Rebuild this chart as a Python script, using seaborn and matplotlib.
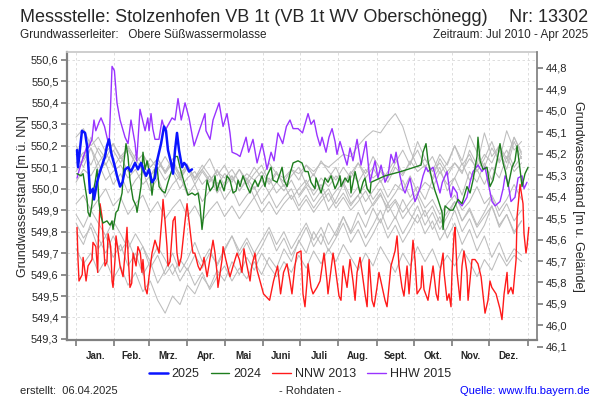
import matplotlib
matplotlib.use('Agg')
import matplotlib.pyplot as plt
from matplotlib.ticker import FuncFormatter, FixedLocator
from matplotlib.lines import Line2D
import pandas as pd
import seaborn as sns

# Tag im Jahr (0 = 1. Jan.) und Grundwasserstand [m ü. NN]
JAHR_2025 = [(0.8, 550.18), (1.6, 550.10), (4.8, 550.27), (7.3, 550.26), (8.9, 550.20), (10, 550.10),
             (11.3, 549.98), (13.7, 550.00), (14.5, 549.95), (17, 550.03), (19.4, 550.08), (23.4, 550.15),
             (25, 550.20), (26.7, 550.23), (28.3, 550.17), (31.5, 550.10), (33.1, 550.06), (35.6, 550.01),
             (37.5, 550.03), (39.6, 550.09), (42, 550.10), (44.4, 550.08), (47.7, 550.12), (50, 550.09),
             (52.5, 550.12), (55, 550.08), (56.6, 550.06), (59, 550.09), (61.4, 550.03), (63.8, 550.05),
             (65.5, 550.13), (68.7, 550.21), (71.1, 550.29), (72.7, 550.27), (74.3, 550.18), (76.8, 550.12),
             (78.4, 550.07), (80, 550.18), (81.6, 550.26), (83.2, 550.18), (85.7, 550.10), (87.3, 550.12),
             (89, 550.11), (91.3, 550.08), (93.7, 550.09)]

JAHR_2024 = [(0.8, 550.07), (4, 550.06), (5.7, 550.07), (7.3, 550.01), (8.9, 549.95), (9.7, 549.89),
             (11.3, 549.87), (12.9, 549.93), (13.7, 549.98), (15.4, 550.03), (17, 550.09), (18.6, 549.93),
             (20.2, 549.87), (21.8, 549.84), (25, 549.85), (27.5, 549.83), (29.1, 549.85), (29.9, 549.81),
             (32.3, 549.89), (33.9, 549.90), (37.2, 549.98), (38.8, 550.13), (40.4, 550.21), (42, 550.15),
             (43.6, 550.04), (46.1, 549.95), (48.5, 549.92), (49.3, 549.89), (50.9, 549.95), (52.5, 550.01),
             (53.3, 550.09), (54.1, 550.17), (55.8, 550.09), (57.4, 550.13), (59.8, 550.06), (61.4, 549.97),
             (63.8, 550.09), (65.5, 550.10), (67.1, 550.01), (69.5, 549.99), (71.9, 549.98), (74.3, 550.03),
             (77.6, 550.09), (80, 550.15), (82, 550.15), (84, 550.10), (87.3, 550.03), (90.5, 549.97),
             (93.7, 549.98), (96.2, 549.97), (98.6, 549.98), (100.2, 549.92), (101.8, 549.81), (102.6, 549.85),
             (104.2, 549.95), (105.9, 550.04), (108.3, 549.99), (110.7, 550.01), (112.3, 550.06), (113.9, 549.99),
             (116.4, 550.04), (119.6, 549.99), (122, 550.06), (124.4, 550.04), (126.9, 549.98), (129.3, 549.99),
             (130.9, 550.04), (132.5, 550.01), (134.9, 550.06), (138.2, 550.01), (140.6, 549.98), (142.2, 550.01),
             (144.6, 550.04), (147.1, 550.01), (150.3, 550.06), (152.7, 550.01), (154.3, 550.06), (157.6, 550.10),
             (159.2, 550.04), (162.4, 550.03), (164.8, 550.07), (166.5, 550.10), (168.1, 550.04), (170.5, 550.01),
             (172.9, 550.07), (175.4, 550.12), (179.4, 550.13), (182.6, 550.12), (185.1, 550.08), (187.5, 550.08),
             (189.9, 550.03), (193.1, 550.00), (193.9, 550.05), (195.6, 550.02), (198, 549.98), (201.2, 550.05),
             (203.6, 550.03), (206.1, 550.06), (209.3, 550.00), (211.7, 550.03), (213.3, 550.06), (214.1, 550.01),
             (217.4, 550.05), (219.8, 550.03), (221.4, 550.06), (222.2, 549.98), (225.5, 550.08), (227.9, 550.02),
             (229.5, 549.98), (231.9, 550.03), (233.5, 550.05), (235.2, 550.00), (237.6, 549.98), (238.4, 550.03),
             (249.7, 550.06), (262.6, 550.08), (278.8, 550.11), (280.4, 550.17), (282.8, 550.21), (284.4, 550.13),
             (287.7, 550.04), (290.1, 549.99), (292.5, 549.95), (295.8, 549.89), (296.6, 549.81), (298.2, 549.92),
             (302.2, 549.90), (304.6, 549.90), (308.7, 549.95), (311.9, 549.93), (315.9, 550.01), (318.4, 549.98),
             (320.8, 550.04), (324, 550.15), (324.8, 550.24), (326.5, 550.13), (328.9, 550.09), (332.1, 550.10),
             (334.5, 550.01), (337, 550.04), (340.2, 550.13), (342.6, 550.21), (345.1, 550.12), (347, 550.08),
             (349.1, 550.01), (352.3, 550.10), (354.7, 550.13), (356.4, 550.20), (358.8, 550.09), (360.4, 550.01),
             (362.8, 550.07), (365.3, 550.10)]

NNW_2013 = [(0.8, 549.82), (1.6, 549.67), (2.4, 549.57), (5, 549.60), (5.7, 549.68), (7.3, 549.61),
            (8.1, 549.57), (9.7, 549.64), (12.9, 549.67), (13.7, 549.75), (16, 549.73), (17, 549.65),
            (17.5, 549.61), (18, 549.76), (19.4, 549.93), (21, 549.87), (21.8, 549.78), (23.4, 549.64),
            (25, 549.66), (25.9, 549.79), (28, 549.73), (29.1, 549.57), (29.9, 549.54), (31.5, 549.67),
            (32.3, 549.78), (35.6, 549.64), (38, 549.59), (39.6, 549.70), (41.2, 549.82), (42, 549.70),
            (43.6, 549.54), (45, 549.56), (46.1, 549.70), (48.5, 549.64), (50, 549.73), (52, 549.70),
            (53.3, 549.61), (54.1, 549.67), (55.8, 549.54), (57.4, 549.51), (59, 549.59), (61.4, 549.70),
            (63.8, 549.76), (66, 549.72), (67.1, 549.70), (69.5, 549.87), (70.3, 549.95), (71.9, 549.85),
            (73.5, 549.73), (74.3, 549.64), (76, 549.66), (78.4, 549.85), (80, 549.87), (81.6, 549.70),
            (83.2, 549.64), (85, 549.68), (88.1, 549.85), (89.7, 549.93), (91.3, 549.85), (93.7, 549.73),
            (94.5, 549.70), (96, 549.70), (98.6, 549.64), (100.2, 549.62), (102.6, 549.65), (103.4, 549.68),
            (105.9, 549.59), (109.9, 549.73), (110.7, 549.76), (112.3, 549.70), (113.9, 549.61), (114.7, 549.54),
            (118, 549.67), (118.8, 549.73), (121, 549.67), (124.4, 549.59), (126.9, 549.64), (130.1, 549.70),
            (132, 549.67), (134.1, 549.61), (135.7, 549.72), (137.5, 549.66), (140.6, 549.57), (142, 549.64),
            (144.6, 549.70), (146.3, 549.62), (151.5, 549.51), (156.4, 549.48), (159.6, 549.57), (162.9, 549.64),
            (165.3, 549.51), (167.7, 549.61), (170.5, 549.65), (172.9, 549.57), (174.5, 549.51), (176.9, 549.64),
            (178.5, 549.70), (181.8, 549.71), (183.4, 549.51), (185, 549.45), (186.7, 549.57), (187.5, 549.65),
            (189.9, 549.54), (191.5, 549.51), (194.7, 549.54), (197.2, 549.57), (200.4, 549.70), (202.8, 549.57),
            (203.6, 549.51), (207.7, 549.70), (209.3, 549.64), (212.5, 549.50), (214.1, 549.48), (215.8, 549.64),
            (219, 549.54), (221.4, 549.67), (223.8, 549.57), (225.5, 549.48), (227.1, 549.61), (229.5, 549.68),
            (233.5, 549.51), (235.2, 549.45), (236.8, 549.67), (239.2, 549.48), (240.8, 549.45), (243.2, 549.54),
            (244.8, 549.61), (249.7, 549.48), (251.3, 549.45), (254.5, 549.64), (257.8, 549.71), (259.4, 549.78),
            (261, 549.64), (263.4, 549.54), (265, 549.50), (267.5, 549.64), (269.1, 549.51), (272.3, 549.76),
            (273.9, 549.67), (275.6, 549.51), (278.8, 549.54), (279.6, 549.64), (281.2, 549.53), (284.4, 549.48),
            (287.7, 549.61), (288.5, 549.64), (291, 549.51), (292.5, 549.48), (294.1, 549.61), (296.6, 549.70),
            (297.4, 549.61), (299.8, 549.48), (301.4, 549.51), (303, 549.45), (303.8, 549.61), (305.5, 549.79),
            (306.3, 549.82), (307.9, 549.61), (310.3, 549.48), (311.9, 549.64), (313.5, 549.71), (315.9, 549.61),
            (316.8, 549.48), (320, 549.67), (322.4, 549.67), (324.8, 549.65), (327.3, 549.59), (330.5, 549.42),
            (332.9, 549.48), (334.5, 549.57), (336, 549.54), (339.4, 549.51), (342.6, 549.44), (344.2, 549.39),
            (345.9, 549.51), (348.3, 549.61), (349.1, 549.51), (351.5, 549.54), (353.1, 549.51), (355.6, 549.67),
            (356.4, 549.87), (358.8, 550.02), (361.2, 549.93), (362, 549.79), (363.6, 549.70), (364.4, 549.73),
            (365.9, 549.82)]

HHW_2015 = [(0.8, 550.05), (3.2, 550.10), (6, 550.15), (8.9, 550.20), (10, 550.19), (12.9, 550.23),
            (14.5, 550.32), (16, 550.27), (18.6, 550.31), (20.2, 550.33), (23, 550.29), (25, 550.24),
            (26.7, 550.20), (29.1, 550.57), (31, 550.55), (33.1, 550.40), (35.6, 550.32), (39.6, 550.24),
            (42, 550.21), (44.4, 550.32), (47.7, 550.21), (49, 550.13), (51.7, 550.37), (55.8, 550.27),
            (58, 550.33), (59, 550.27), (60.6, 550.35), (62, 550.28), (63.8, 550.23), (67, 550.23),
            (69.5, 550.32), (71.9, 550.27), (77.6, 550.33), (80, 550.32), (82.4, 550.42), (85, 550.32),
            (88.1, 550.40), (91.3, 550.33), (95.4, 550.20), (104.2, 550.35), (105, 550.27), (108.3, 550.23),
            (110.7, 550.32), (115.6, 550.40), (118.8, 550.29), (122, 550.35), (124.4, 550.26), (126.1, 550.17),
            (130.1, 550.16), (132.5, 550.15), (137.4, 550.24), (139.5, 550.17), (143, 550.23), (146.3, 550.12),
            (150.3, 550.21), (152.5, 550.15), (154.3, 550.09), (157.6, 550.17), (160, 550.13), (163.2, 550.26),
            (167, 550.21), (170, 550.29), (172.9, 550.32), (175.4, 550.28), (179.4, 550.28), (183, 550.26),
            (187.5, 550.35), (189.9, 550.30), (192.3, 550.32), (194.7, 550.25), (197.2, 550.20), (198.8, 550.24),
            (202, 550.17), (204.4, 550.24), (206.9, 550.28), (209.3, 550.22), (210.9, 550.16), (213.3, 550.22),
            (217.4, 550.14), (219, 550.11), (221.4, 550.19), (223.8, 550.13), (227.1, 550.23), (230.3, 550.11),
            (234.3, 550.22), (237.6, 550.03), (241.6, 550.13), (244, 550.05), (246.5, 550.11), (249.7, 550.03),
            (252.1, 550.06), (254.5, 550.16), (257, 550.12), (258.6, 550.17), (261.8, 550.06), (264.2, 550.00),
            (265.9, 549.98), (269.9, 550.05), (272.3, 549.98), (273.9, 549.94), (277.9, 550.00), (280.4, 550.06),
            (282.8, 550.10), (284.4, 550.08), (288.5, 550.10), (291.7, 550.03), (294.1, 549.98), (296, 550.03),
            (299.8, 550.08), (302.2, 549.98), (303, 549.96), (304.6, 550.01), (307.9, 549.98), (308.7, 549.94),
            (311.9, 549.92), (315.9, 549.96), (318.4, 550.03), (320.8, 550.08), (324.8, 550.11), (328.1, 550.08),
            (330.5, 550.10), (332.9, 550.03), (336.2, 549.94), (338.6, 549.92), (342.6, 549.94), (345.1, 550.00),
            (346.7, 550.06), (349, 550.03), (351.5, 549.94), (354.7, 549.96), (357.2, 550.05), (360.4, 550.06),
            (362, 550.00), (364.4, 550.03)]

# uebrige Jahre (grau), Werte alle 6 Tage
GRAU_TAGE = list(range(0, 361, 6))
GRAU_2010 = [549.96, 550.01, 549.94, 549.99, 549.90, 549.95, 550.02, 549.93, 549.97, 549.88, 549.93, 549.98,
             549.89, 549.94, 549.86, 549.91, 549.96, 549.87, 549.92, 549.84, 549.89, 549.94, 549.85, 549.90,
             549.82, 549.87, 549.92, 549.83, 549.88, 549.80, 549.85]
GRAU_2011 = [549.88, 549.82, 549.90, 549.84, 549.78, 549.85, 549.79, 549.72, 549.79, 549.73, 549.66, 549.73,
             549.67, 549.60, 549.67, 549.62, 549.69, 549.63, 549.70, 549.65, 549.72, 549.78, 549.71, 549.77,
             549.70, 549.76, 549.82, 549.74, 549.80, 549.72, 549.78, 549.84, 549.76, 549.82, 549.74, 549.80,
             549.87, 549.79, 549.85, 549.77, 549.83, 549.90, 549.81, 549.87, 549.79, 549.85, 549.92, 549.83,
             549.89, 549.81, 549.87, 549.94, 549.85, 549.91, 549.83, 549.89, 549.96, 549.87, 549.93, 549.85,
             549.90]
GRAU_2012 = [550.20, 550.14, 550.24, 550.17, 550.11, 550.18, 550.12, 550.20, 550.14, 550.08, 550.14, 550.09,
             550.15, 550.09, 550.04, 550.10, 550.05, 550.11, 550.06, 550.01, 550.07, 550.03, 550.09, 550.04,
             550.10, 550.05, 550.12, 550.07, 550.03, 550.09, 550.04, 550.11, 550.06, 550.13, 550.08, 550.04,
             550.10, 550.05, 550.12, 550.07, 550.15, 550.09, 550.05, 550.12, 550.18, 550.11, 550.22, 550.14,
             550.08, 550.16, 550.11, 550.20, 550.13, 550.25, 550.17, 550.10, 550.19, 550.13, 550.27, 550.18,
             550.22]
GRAU_2014 = [549.93, 549.97, 549.90, 549.95, 550.00, 549.92, 549.96, 549.88, 549.93, 549.97, 549.89, 549.94,
             549.86, 549.91, 549.95, 549.87, 549.92, 549.85, 549.90, 549.94, 549.87, 549.92, 549.86, 549.91,
             549.96, 549.89, 549.94, 549.88, 549.93, 549.97, 549.90, 549.95, 549.89, 549.94, 549.98, 549.91,
             549.96, 549.90, 549.94, 549.99, 549.92, 549.97, 549.91, 549.95, 549.89, 549.94, 549.98, 549.91,
             549.95, 549.88, 549.93, 549.97, 549.90, 549.94, 550.01, 549.93, 549.97, 549.90, 549.95, 550.02,
             549.95]
GRAU_2016 = [550.12, 550.17, 550.11, 550.19, 550.14, 550.21, 550.15, 550.19, 550.12, 550.16, 550.10, 550.14,
             550.07, 550.12, 550.05, 550.10, 550.02, 550.08, 550.03, 550.09, 550.01, 550.06, 549.99, 550.05,
             550.00, 550.04, 549.98, 550.03, 549.99, 550.04, 549.97, 550.02, 549.99, 550.05, 550.01, 550.06,
             550.02, 550.08, 550.03, 550.09, 550.05, 550.08, 550.03, 550.10, 550.06, 550.13, 550.08, 550.11,
             550.05, 550.14, 550.08, 550.12, 550.07, 550.18, 550.11, 550.26, 550.15, 550.20, 550.12, 550.24,
             550.16]
GRAU_2017 = [550.08, 550.13, 550.19, 550.12, 550.17, 550.10, 550.15, 550.08, 550.16, 550.11, 550.06, 550.12,
             550.08, 550.14, 550.06, 550.11, 550.04, 550.09, 550.14, 550.06, 550.11, 550.04, 550.09, 550.02,
             550.07, 550.11, 550.03, 550.08, 550.01, 550.06, 550.10, 550.02, 550.07, 550.00, 550.05, 550.10,
             550.02, 550.07, 550.12, 550.05, 550.10, 550.03, 550.08, 550.14, 550.07, 550.12, 550.18, 550.10,
             550.15, 550.07, 550.12, 550.20, 550.11, 550.16, 550.08, 550.14, 550.22, 550.12, 550.18, 550.10,
             550.15]
GRAU_2018 = [550.03, 550.09, 550.06, 550.12, 550.04, 550.08, 550.11, 550.05, 550.09, 550.02, 550.06, 550.10,
             550.04, 550.08, 550.00, 550.05, 550.08, 550.02, 550.06, 549.98, 550.03, 550.06, 549.99, 550.04,
             549.96, 550.01, 550.05, 549.98, 550.02, 549.95, 550.00, 550.04, 549.97, 550.02, 549.94, 549.99,
             550.03, 549.96, 550.01, 549.94, 549.99, 550.04, 549.96, 550.02, 549.99, 550.06, 549.98, 550.03,
             550.00, 550.08, 550.02, 550.05, 550.12, 550.04, 550.09, 550.02, 550.10, 550.05, 550.15, 550.08,
             550.12]
GRAU_2019 = [549.84, 549.77, 549.82, 549.72, 549.78, 549.68, 549.74, 549.64, 549.70, 549.60, 549.66, 549.56,
             549.62, 549.70, 549.61, 549.67, 549.75, 549.66, 549.72, 549.64, 549.71, 549.78, 549.69, 549.75,
             549.67, 549.73, 549.80, 549.71, 549.77, 549.69, 549.75, 549.82, 549.73, 549.79, 549.71, 549.77,
             549.84, 549.75, 549.81, 549.73, 549.79, 549.86, 549.77, 549.83, 549.75, 549.81, 549.88, 549.79,
             549.85, 549.76, 549.82, 549.90, 549.80, 549.86, 549.77, 549.83, 549.92, 549.82, 549.88, 549.79,
             549.85]
GRAU_2020 = [549.72, 549.65, 549.70, 549.61, 549.67, 549.58, 549.64, 549.55, 549.61, 549.52, 549.57, 549.48,
             549.42, 549.50, 549.46, 549.55, 549.51, 549.59, 549.54, 549.62, 549.57, 549.66, 549.60, 549.68,
             549.62, 549.70, 549.64, 549.59, 549.66, 549.61, 549.69, 549.63, 549.71, 549.65, 549.72, 549.66,
             549.74, 549.68, 549.62, 549.70, 549.64, 549.73, 549.67, 549.61, 549.70, 549.64, 549.73, 549.66,
             549.72, 549.63, 549.69, 549.64, 549.72, 549.66, 549.59, 549.67, 549.62, 549.70, 549.64, 549.69,
             549.66]
GRAU_2021 = [550.16, 550.10, 550.19, 550.08, 550.12, 550.02, 550.07, 549.98, 550.04, 550.08, 549.99, 550.05,
             549.96, 550.02, 550.06, 549.97, 550.02, 549.94, 549.99, 550.03, 549.95, 550.00, 549.92, 549.97,
             550.01, 549.93, 549.98, 549.91, 549.96, 550.00, 549.92, 549.97, 549.91, 549.96, 550.00, 549.93,
             549.98, 549.92, 549.97, 550.02, 549.95, 550.00, 549.93, 549.98, 550.04, 549.96, 550.01, 549.95,
             550.04, 550.10, 549.99, 550.05, 549.97, 550.08, 550.03, 550.12, 550.04, 550.18, 550.09, 550.22,
             550.14]
GRAU_2022 = [549.80, 549.74, 549.84, 549.77, 549.70, 549.78, 549.71, 549.76, 549.67, 549.73, 549.63, 549.69,
             549.60, 549.65, 549.57, 549.63, 549.55, 549.61, 549.53, 549.59, 549.64, 549.57, 549.63, 549.58,
             549.66, 549.60, 549.68, 549.63, 549.72, 549.66, 549.76, 549.70, 549.80, 549.74, 549.84, 549.78,
             549.87, 549.80, 549.89, 549.82, 549.91, 549.84, 549.93, 549.86, 549.95, 549.88, 549.84, 549.90,
             549.81, 549.87, 549.77, 549.84, 549.74, 549.81, 549.71, 549.78, 549.68, 549.75, 549.66, 549.72,
             549.69]
GRAU_2023 = [550.24, 550.28, 550.20, 550.24, 550.17, 550.21, 550.14, 550.18, 550.12, 550.16, 550.10, 550.14,
             550.08, 550.12, 550.07, 550.11, 550.05, 550.09, 550.04, 550.08, 550.05, 550.09, 550.03, 550.07,
             550.04, 550.08, 550.02, 550.07, 550.05, 550.09, 550.07, 550.11, 550.08, 550.12, 550.10, 550.13,
             550.16, 550.15, 550.20, 550.24, 550.27, 550.26, 550.31, 550.35, 550.29, 550.18, 550.10, 550.14,
             550.08, 550.12, 550.06, 550.12, 550.08, 550.14, 550.10, 550.16, 550.12, 550.20, 550.14, 550.24,
             550.17]

MONATE = ['Jan.', 'Feb.', 'Mrz.', 'Apr.', 'Mai', 'Juni', 'Juli', 'Aug.', 'Sept.', 'Okt.', 'Nov.', 'Dez.']
MONATSANFANG = [0, 31, 59, 90, 120, 151, 181, 212, 243, 273, 304, 334, 365]
GELAENDE = 595.363  # Gelaendehoehe, fuer die rechte Achse

sns.set_theme(style='white')
plt.rcParams['font.family'] = ['Liberation Sans', 'DejaVu Sans']

komma = FuncFormatter(lambda v, p: ('%.1f' % v).replace('.', ','))

fig = plt.figure(figsize=(6, 4), dpi=100)
ax = fig.add_axes([67 / 600, 60 / 400, 470 / 600, 288 / 400])

grau = {2010: GRAU_2010, 2011: GRAU_2011, 2012: GRAU_2012, 2014: GRAU_2014, 2016: GRAU_2016,
        2017: GRAU_2017, 2018: GRAU_2018, 2019: GRAU_2019, 2020: GRAU_2020, 2021: GRAU_2021,
        2022: GRAU_2022, 2023: GRAU_2023}
rows = []
for jahr, werte in grau.items():
    for t, w in zip(GRAU_TAGE[-len(werte):], werte):
        rows.append((jahr, t, w))
df_grau = pd.DataFrame(rows, columns=['jahr', 'tag', 'stand'])
sns.lineplot(data=df_grau, x='tag', y='stand', units='jahr', estimator=None, color='#bdbdbd',
             lw=0.75, ax=ax, legend=False)

serien = [('NNW 2013', NNW_2013, '#ff1a1a', 1.0),
          ('HHW 2015', HHW_2015, '#9933ff', 1.0),
          ('2024', JAHR_2024, '#1e7d1e', 1.0),
          ('2025', JAHR_2025, '#0a14ff', 1.8)]
for name, daten, farbe, lw in serien:
    d = pd.DataFrame(daten, columns=['tag', 'stand'])
    sns.lineplot(data=d, x='tag', y='stand', color=farbe, lw=lw, ax=ax, legend=False)

ax.set_xlim(-7.3, 372.5)
ax.set_ylim(549.295, 550.637)
ax.set_xlabel('')
ax.set_ylabel('Grundwasserstand [m ü. NN]', fontsize=9)
ax.yaxis.set_label_coords(-0.08, 0.5)

ax.xaxis.set_major_locator(FixedLocator(MONATSANFANG))
ax.xaxis.set_major_formatter(FuncFormatter(lambda v, p: ''))
mitte = [(a + b) / 2 for a, b in zip(MONATSANFANG[:-1], MONATSANFANG[1:])]
ax.xaxis.set_minor_locator(FixedLocator(mitte))
ax.set_xticklabels(MONATE, minor=True, fontsize=7, fontweight='bold')
ax.tick_params(axis='x', which='major', direction='out', length=4, color='#808080', bottom=True)
ax.tick_params(axis='x', which='minor', length=0, pad=8)

ax.set_yticks([549.3 + 0.1 * i for i in range(14)])
ax.yaxis.set_major_formatter(komma)
ax.tick_params(axis='y', direction='out', length=4, color='#808080', left=True, labelsize=8, pad=2)
ax.grid(True, which='major', ls=(0, (3, 3)), lw=0.6, color='#d8d8d8')

for s in ['left', 'bottom']:
    ax.spines[s].set_color('#808080')
    ax.spines[s].set_linewidth(1.6)
ax.spines['top'].set_color('#c8c8c8')
ax.spines['right'].set_visible(False)

# rechte Achse: Flurabstand
unten = GELAENDE - (549.295 - 12 / 214.6)
oben = GELAENDE - 550.637
ax2 = fig.add_axes([67 / 600, 48 / 400, 470 / 600, 300 / 400])
ax2.patch.set_visible(False)
ax2.set_xticks([])
ax2.set_ylim(unten, oben)
for s in ['left', 'top', 'bottom']:
    ax2.spines[s].set_visible(False)
ax2.spines['right'].set_bounds(GELAENDE - 549.295, oben)
ax2.spines['right'].set_color('#808080')
ax2.yaxis.tick_right()
ax2.yaxis.set_label_position('right')
ax2.set_yticks([44.8 + 0.1 * i for i in range(14)])
ax2.yaxis.set_major_formatter(komma)
ax2.tick_params(axis='y', direction='out', length=4, color='#808080', right=True, labelsize=8, pad=2)
ax2.set_ylabel('Grundwasserstand [m u. Gelände]', fontsize=9, rotation=270, labelpad=12)
ax2.yaxis.set_label_coords(1.1, 0.52)

griffe = [Line2D([], [], color='#0a14ff', lw=1.8, label='2025'),
          Line2D([], [], color='#1e7d1e', lw=1.0, label='2024'),
          Line2D([], [], color='#ff1a1a', lw=1.0, label='NNW 2013'),
          Line2D([], [], color='#9933ff', lw=1.0, label='HHW 2015')]
fig.legend(handles=griffe, loc='center', bbox_to_anchor=(0.5, 1 - 374 / 400), ncol=4, frameon=False,
           fontsize=9, handlelength=1.5, handletextpad=0.3, columnspacing=0.9)

fig.text(20 / 600, 1 - 17 / 400, 'Messstelle: Stolzenhofen VB 1t (VB 1t WV Oberschönegg)', fontsize=13,
         va='center', ha='left')
fig.text(588 / 600, 1 - 17 / 400, 'Nr: 13302', fontsize=13, va='center', ha='right')
fig.text(20 / 600, 1 - 35 / 400, 'Grundwasserleiter:   Obere Süßwassermolasse', fontsize=8.5,
         va='center', ha='left')
fig.text(588 / 600, 1 - 35 / 400, 'Zeitraum: Jul 2010 - Apr 2025', fontsize=8.5, va='center', ha='right')
fig.text(20 / 600, 1 - 391 / 400, 'erstellt:  06.04.2025', fontsize=8, va='center', ha='left')
fig.text(310 / 600, 1 - 391 / 400, '- Rohdaten -', fontsize=8, va='center', ha='center')
fig.text(590 / 600, 1 - 391 / 400, 'Quelle: www.lfu.bayern.de', fontsize=8, va='center', ha='right',
         color='#0000ff')

fig.savefig('out.png', dpi=100)
